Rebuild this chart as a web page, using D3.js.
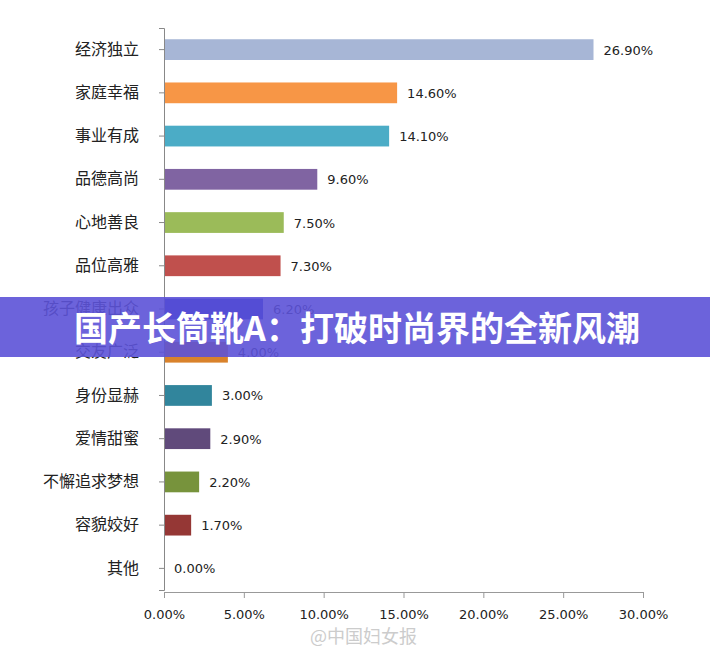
<!DOCTYPE html>
<html><head><meta charset="utf-8">
<script src="https://cdn.jsdelivr.net/npm/d3@7"></script>
<style>body{margin:0;background:#fff;font-family:"Noto Sans CJK SC",sans-serif;}</style>
</head><body><div class="chart"></div>
<script>
var categories = ["经济独立","家庭幸福","事业有成","品德高尚","心地善良","品位高雅","孩子健康出众","交友广泛","身份显赫","爱情甜蜜","不懈追求梦想","容貌姣好","其他"];
var values = [26.9,14.6,14.1,9.6,7.5,7.3,6.2,4.0,3.0,2.9,2.2,1.7,0.0];
var colors = ["#a7b6d6","#f79646","#4bacc6","#8064a2","#9bbb59","#c0504d","#0a1ec0","#d9822b","#31859c","#604a7b","#77933c","#953735","#888"];
var xTicks = [0,5,10,15,20,25,30];

var svg = d3.select(".chart").append("svg").attr("width",710).attr("height",655);
var x = d3.scaleLinear().domain([0,30]).range([164,643]);
var y = d3.scaleBand().domain(categories).range([28,590]).paddingInner(0.52).paddingOuter(0.26);

svg.selectAll("rect.bar").data(categories).enter().append("rect")
  .attr("x", x(0)).attr("y", d => y(d))
  .attr("width", (d,i) => x(values[i]) - x(0)).attr("height", y.bandwidth())
  .attr("fill", (d,i) => colors[i]);

svg.selectAll("text.val").data(categories).enter().append("text")
  .attr("x", (d,i) => x(values[i]) + 10).attr("y", d => y(d) + y.bandwidth()/2 + 5)
  .attr("font-family","'DejaVu Sans',sans-serif").attr("font-size",13).attr("fill","#222")
  .text((d,i) => values[i].toFixed(2) + "%");

var yAxis = svg.append("g").attr("transform","translate(164,0)")
  .call(d3.axisLeft(y).tickSize(5).tickPadding(20));
yAxis.selectAll("text").attr("font-size",16).attr("fill","#222").attr("font-family","'Noto Sans CJK SC'");
yAxis.selectAll("line,path").attr("stroke","#888");

var xAxis = svg.append("g").attr("transform","translate(0,592)")
  .call(d3.axisBottom(x).tickValues(xTicks).tickSize(6).tickSizeOuter(0).tickPadding(12).tickFormat(d => d.toFixed(2) + "%"));
xAxis.selectAll("text").attr("font-size",13).attr("fill","#222").attr("font-family","'DejaVu Sans',sans-serif");
xAxis.selectAll("line,path").attr("stroke","#999");

// watermark
svg.append("text").attr("x",310).attr("y",643).attr("font-size",18).attr("fill","#ccc").text("@中国妇女报");

// banner
svg.append("rect").attr("x",0).attr("y",297).attr("width",710).attr("height",60).attr("fill","rgba(92,82,215,0.9)");
svg.append("text").attr("x",357).attr("y",341).attr("text-anchor","middle")
  .attr("font-size",34).attr("font-weight","bold").attr("fill","#fff").text("国产长筒靴A：打破时尚界的全新风潮");
</script></body></html>
